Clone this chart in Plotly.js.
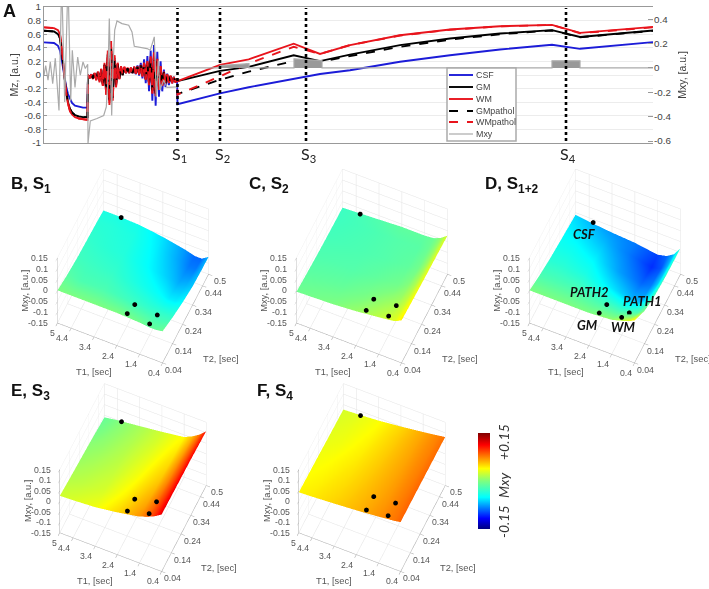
<!DOCTYPE html>
<html><head><meta charset="utf-8">
<script src="https://cdn.plot.ly/plotly-3.0.1.min.js"></script>
<style>html,body{margin:0;padding:0;background:#fff}#g{width:709px;height:589px}</style></head>
<body><div id="g"></div>
<script>
// ---------- Panel A data ----------
const tPre=[0,5,10,14,16,18,20,22,24,26,28,31,35,39,43.5];
const wmPre=[.70,.70,.69,.66,.6,.38,.05,-.25,-.42,-.53,-.58,-.62,-.64,-.65,-.66];
const gmPre=[.65,.65,.64,.6,.54,.33,.03,-.23,-.4,-.5,-.55,-.59,-.61,-.62,-.62];
const csfPre=[.48,.48,.47,.43,.36,.2,.0,-.16,-.28,-.36,-.41,-.45,-.47,-.48,-.48];
const tOsc=[44,45.65,47.3,48.95,50.6,52.25,53.9,55.55,57.2,58.85,60.5,62.15,63.8,65.45,67.1,68.75,70.4,72.05,73.7,75.35,77,78.65,80.3,81.95,83.6,85.25,86.9,88.55,90.2,91.85,93.5,95.15,96.8,98.45,100.1,101.75,103.4,105.05,106.7,108.35,110,111.65,113.3,114.95,116.6,118.25,119.9,121.55,123.2,124.85,126.5,128.15,129.8,131.45,133.1];
const wmOsc=[0,-.05,.01,-.06,.03,-.08,.05,-.11,.09,-.16,.18,-.29,.36,-.44,.5,-.38,.29,-.18,.18,-.06,.13,0,.12,.03,.11,.03,.11,.03,.12,.02,.13,.01,.15,-.02,.18,-.07,.2,-.15,.27,-.27,.33,-.31,.24,-.22,.13,-.16,.05,-.13,.01,-.12,-.01,-.12,-.03,-.11,-.05];
const gmOsc=[0,-.04,.01,-.05,.02,-.07,.04,-.09,.08,-.14,.15,-.25,.31,-.38,.42,-.33,.25,-.15,.16,-.05,.12,0,.11,.03,.10,.03,.10,.03,.11,.02,.12,.01,.14,-.01,.16,-.06,.18,-.13,.23,-.23,.28,-.27,.21,-.19,.11,-.14,.04,-.12,0,-.11,-.02,-.11,-.03,-.10,-.06];
const csfOsc=[0,-.03,.01,-.04,.01,-.05,.03,-.07,.06,-.11,.12,-.2,.25,-.31,.34,-.27,.2,-.12,.13,-.03,.1,.02,.1,.03,.1,.03,.1,.03,.12,.01,.14,-.01,.18,-.05,.23,-.12,.28,-.24,.36,-.38,.44,-.45,.34,-.32,.2,-.24,.08,-.18,.02,-.15,-.02,-.12,-.03,-.11,-.06];
const tPost=[133.5,176,204.7,249.7,276,306,356,406,456,508,536,609];
const wmPost=[-.09,.15,.23,.46,.31,.44,.585,.67,.717,.737,.62,.707];
const gmPost=[-.09,.06,.12,.29,.205,.30,.44,.537,.61,.66,.56,.654];
const csfPost=[-.43,-.27,-.18,-.05,.015,.07,.195,.29,.375,.444,.385,.483];
const gmpPost=[-.28,-.07,.05,.205,.195,.278,.415,.52,.6,.655,.555,.65];
const wmpPost=[-.29,-.02,.17,.415,.31,.44,.58,.665,.715,.735,.615,.70];
const mxyT=[0,1.7,4,6.3,8.7,11.3,15,17.7,20.7,24,26.7,28.3,31,33.7,36.3,39,41.3,43.7,44,46.3,53,59.7,62.3,63.7,65.3,66.7,67.7,69,70.7,73,78,84.7,88,90.3,96.3,103,106.3,110.3,112.3,114.3,116,119.7,123,128,133.7];
const mxyV=[-.06,.02,-.10,.05,-.13,.08,-.35,.72,-.28,.72,-.27,.145,-.16,.09,-.06,.05,-.005,.03,-.62,-.435,-.415,-.39,-.32,-.13,.405,-.24,-.39,.01,.31,.386,.364,.35,.296,.178,.167,.159,.145,.255,-.24,.063,-.18,-.10,-.16,-.16,-.156];
const readT=[133.5,176,176,205,205,250,250,278,278,508,508,536,536,609];
const readV=[0,0,.02,.035,0,0,.075,.06,0,0,.058,.058,0,0];
const sTimes=[133.5,176,262,522];
const sNames=['S<sub>1</sub>','S<sub>2</sub>','S<sub>3</sub>','S<sub>4</sub>'];
const leftTicks=[-1,-.8,-.6,-.4,-.2,0,.2,.4,.6,.8,1];
const leftText=['-1','-0.8','-0.6','-0.4','-0.2','0','0.2','0.4','0.6','0.8','1'];
const rightTicks=[-.6,-.4,-.2,0,.2,.4];
const rightText=['-0.6','-0.4','-0.2','0','0.2','0.4'];
const legendNames=['CSF','GM','WM','GMpathol','WMpathol','Mxy'];
const legendColors=['#1c1cd8','#000000','#e8141c','#000000','#e8141c','#aaaaaa'];
const legendDash=['solid','solid','solid','dash','dash','solid'];
const legendRows=[75,87,99,111,122,134];
// ---------- Surfaces ----------
const T1=[.4,.7,1,1.4,2.4,3.4,4.4,5];
const T2=[.04,.14,.24,.34,.44,.5];
const zB=[[-.005,-.01,-.01,-.005,0,0,0,0],[-.03,-.03,-.03,-.03,-.025,-.02,-.02,-.015],[-.05,-.055,-.055,-.05,-.04,-.03,-.027,-.025],[-.065,-.07,-.072,-.065,-.05,-.037,-.033,-.03],[-.07,-.085,-.085,-.075,-.055,-.04,-.036,-.035],[-.07,-.09,-.09,-.078,-.058,-.044,-.04,-.04]];
const zC=[[.045,.03,.025,.02,.008,0,-.004,-.006],[.04,.022,.012,.008,-.003,-.01,-.012,-.013],[.036,.015,.003,-.005,-.012,-.017,-.018,-.019],[.033,.01,-.005,-.012,-.017,-.02,-.022,-.023],[.03,.007,-.008,-.015,-.017,-.021,-.024,-.026],[.028,.005,-.008,-.012,-.012,-.018,-.024,-.027]];
const zD=[[.045,.03,.02,.008,0,0,0,0],[0,-.02,-.025,-.03,-.025,-.02,-.02,-.02],[-.02,-.05,-.07,-.07,-.055,-.04,-.035,-.035],[-.028,-.065,-.085,-.09,-.075,-.055,-.047,-.045],[-.03,-.07,-.095,-.105,-.085,-.07,-.06,-.055],[-.03,-.07,-.09,-.1,-.085,-.078,-.068,-.06]];
const zE=[[.12,.1,.085,.07,.05,.035,.028,.025],[.118,.097,.08,.063,.043,.027,.02,.017],[.116,.093,.074,.056,.037,.022,.014,.01],[.114,.09,.07,.05,.032,.018,.008,.004],[.11,.085,.064,.044,.027,.014,.003,-.005],[.108,.08,.06,.04,.025,.012,0,-.01]];
const zF=[[.084,.078,.075,.07,.06,.052,.045,.042],[.084,.078,.074,.068,.058,.049,.042,.039],[.083,.077,.073,.067,.056,.046,.039,.036],[.082,.076,.072,.066,.054,.043,.035,.032],[.081,.075,.071,.065,.052,.04,.032,.029],[.08,.075,.07,.064,.05,.038,.03,.027]];
const tissueNames=['CSF','GM','WM','PATH1','PATH2'];
const tissueT1=[4.17,1.96,.98,.96,1.96];
const tissueT2=[.487,.043,.043,.115,.118];
const ptB=[-.028,.012,.004,-.018,-.013];
const ptC=[-.012,.027,.04,.025,.012];
const ptD=[-.051,.015,.034,-.008,-.013];
const ptE=[.014,.072,.099,.092,.062];
const ptF=[.043,.077,.089,.086,.074];
const zTicks=[-.15,-.1,-.05,0,.05,.1,.15];
const zText=['-0.15','-0.1','-0.05','0','0.05','0.1','0.15'];
const t1Ticks=[.4,1.4,2.4,3.4,4.4,5];
const t1Text=['0.4','1.4','2.4','3.4','4.4','5'];
const t2Ticks=[.04,.14,.24,.34,.44,.5];
const t2Text=['0.04','0.14','0.24','0.34','0.44','0.5'];
const jet=[[0,'#00007f'],[.11,'#0000ff'],[.33,'#00ffff'],[.5,'#7fff7f'],[.63,'#ffff00'],[.875,'#ff0000'],[1,'#7f0000']];

const SANS='"Liberation Sans",Arial,sans-serif';
const TICK={family:SANS,size:8.7,color:'#555'};
const TITLE3D={family:SANS,size:9.3,color:'#555'};
const line=(name,x,y,color,dash)=>({type:'scatter',mode:'lines',name,x,y,xaxis:'x',yaxis:'y',line:{color,width:1.9,dash:dash||'solid'}});
const xAll=tPre.concat(tOsc,tPost);
const data=[
 {type:'scatter',mode:'lines',name:'Mxy',x:mxyT,y:mxyV,xaxis:'x',yaxis:'y2',line:{color:'#aaaaaa',width:1.2}},
 {type:'scatter',mode:'lines',name:'readout',x:readT,y:readV,xaxis:'x',yaxis:'y2',fill:'tozeroy',fillcolor:'#999999',line:{color:'#aaaaaa',width:1.2}},
 line('CSF',xAll,csfPre.concat(csfOsc,csfPost),legendColors[0]),
 line('GM',xAll,gmPre.concat(gmOsc,gmPost),legendColors[1]),
 line('WM',xAll,wmPre.concat(wmOsc,wmPost),legendColors[2]),
 line('GMpathol',xAll,gmPre.concat(gmOsc,gmpPost),legendColors[3],'dash'),
 line('WMpathol',xAll,wmPre.concat(wmOsc,wmpPost),legendColors[4],'dash')
];
const W=709,H=589;
const panels=[
 {key:'scene', z:zB,pt:ptB,cx:133,cy:266,lab:'B, S<sub>1</sub>',lx:9,ly:185},
 {key:'scene2',z:zC,pt:ptC,cx:372,cy:266,lab:'C, S<sub>2</sub>',lx:247,ly:185},
 {key:'scene3',z:zD,pt:ptD,cx:605,cy:266,lab:'D, S<sub>1+2</sub>',lx:483,ly:185},
 {key:'scene4',z:zE,pt:ptE,cx:133,cy:481,lab:'E, S<sub>3</sub>',lx:9,ly:392},
 {key:'scene5',z:zF,pt:ptF,cx:372,cy:481,lab:'F, S<sub>4</sub>',lx:255,ly:392}
];
const layout={width:W,height:H,margin:{l:0,r:0,t:0,b:0},paper_bgcolor:'#fff',plot_bgcolor:'#fff',showlegend:false,
 font:{family:SANS},
 xaxis:{domain:[44/W,653/W],range:[0,609],showticklabels:false,ticks:'',showgrid:false,zeroline:false,showline:true,mirror:true,linecolor:'#999',anchor:'y'},
 yaxis:{domain:[1-143/H,1-7/H],range:[-1,1],tickmode:'array',tickvals:leftTicks,ticktext:leftText,tickfont:{family:SANS,size:9.8,color:'#444'},gridcolor:'#ececec',zeroline:false,showline:true,linecolor:'#999',ticks:'inside',ticklen:3,tickcolor:'#999',
   title:{text:'Mz, [a.u.]',font:{family:SANS,size:10.5,color:'#444'},standoff:3}},
 yaxis2:{overlaying:'y',side:'right',anchor:'x',range:[-.616,.5],tickmode:'array',tickvals:rightTicks,ticktext:rightText,tickfont:{family:SANS,size:9.8,color:'#444'},showgrid:false,zeroline:false,showline:false,ticks:'inside',ticklen:5,tickcolor:'#999',
   title:{text:'Mxy, [a.u.]',font:{family:SANS,size:10.5,color:'#444'},standoff:8}},
 shapes:sTimes.map(t=>({type:'line',xref:'x',yref:'paper',x0:t,x1:t,y0:1-141/H,y1:1-8/H,line:{color:'#000',width:2.6,dash:'dot'},layer:'above'})),
 annotations:[]
};
const ann=o=>layout.annotations.push(Object.assign({xref:'paper',yref:'paper',showarrow:false,xanchor:'center',yanchor:'middle'},o));
layout.shapes.push({type:'rect',xref:'paper',yref:'paper',x0:447/W,x1:516/W,y0:1-141/H,y1:1-68/H,fillcolor:'#fff',line:{color:'#aaa',width:1.5},layer:'above'});
legendNames.forEach((n,i)=>{
  layout.shapes.push({type:'line',xref:'paper',yref:'paper',x0:449/W,x1:473/W,y0:1-legendRows[i]/H,y1:1-legendRows[i]/H,line:{color:legendColors[i],width:i===5?1.2:1.9,dash:legendDash[i]},layer:'above'});
  ann({x:474/W,y:1-legendRows[i]/H,xanchor:'left',text:n,font:{family:SANS,size:8.9,color:'#444'}});
});
sTimes.forEach((t,i)=>ann({xref:'x',x:t+2,y:1-155/H,text:sNames[i],font:{family:'Lato,sans-serif',size:16,color:'#222'}}));
ann({x:1/W,y:1-11/H,xanchor:'left',text:'<b>A</b>',font:{family:SANS,size:18,color:'#111'}});
const ax=(ticks,range)=>({tickmode:'array',tickvals:ticks,ticktext:ticks.map(()=>''),showticklabels:false,range,
  showgrid:true,gridcolor:'#e4e4e4',gridwidth:1,showbackground:false,zeroline:false,showline:true,linecolor:'#aaa',linewidth:1,ticks:'outside',ticklen:4,tickcolor:'#aaa',showspikes:false,title:{text:''}});
panels.forEach((p,ip)=>{
  data.push({type:'surface',scene:p.key,x:T1,y:T2,z:p.z,cmin:-.15,cmax:.15,colorscale:jet,showscale:ip===4,
    lighting:{ambient:1,diffuse:0,specular:0,roughness:1,fresnel:0},
    colorbar:{x:478/W,xanchor:'left',y:1-481/H,yanchor:'middle',thicknessmode:'pixels',thickness:12,lenmode:'pixels',len:96,outlinewidth:0,ticks:'',showticklabels:false,xpad:0,ypad:0}});
  data.push({type:'scatter3d',scene:p.key,mode:'markers',x:tissueT1,y:tissueT2,z:p.pt,marker:{size:2.8,color:'#000'},showlegend:false});
  const hw=100,hh=115;
  const sa=[];
  const add=(x,y,z,text,dx,dy,o)=>sa.push(Object.assign({x,y,z,text,showarrow:false,xshift:dx,yshift:-dy,font:TICK},o||{}));
  zTicks.forEach((v,i)=>add(5,.04,v,zText[i],-7,0,{xanchor:'right'}));
  t1Ticks.forEach((v,i)=>add(v,.04,-.15,t1Text[i],v===5?-5:-9,10));
  t2Ticks.forEach((v,i)=>add(.4,v,-.15,t2Text[i],11,7));
  add(2.7,.04,-.15,'T1, [sec]',-16,29,{font:TITLE3D});
  add(.4,.27,-.15,'T2, [sec]',35,40,{font:TITLE3D});
  add(5,.04,0,'Mxy, [a.u.]',-32,0,{textangle:-90,font:TITLE3D});
  if(p.key==='scene3'){
    const LF={family:'Lato,sans-serif',size:13,color:'#111'};
    const off=[[-9,12],[-12,12],[2,10],[13,-12],[-17,-13]];
    tissueNames.forEach((n,i)=>add(tissueT1[i],tissueT2[i],p.pt[i],'<b><i>'+n+'</i></b>',off[i][0],off[i][1],{font:LF}));
  }
  const r=2.27;
  layout[p.key]={domain:{x:[(p.cx-hw)/W,(p.cx+hw)/W],y:[1-(p.cy+hh)/H,1-(p.cy-hh)/H]},
    aspectmode:'manual',aspectratio:{x:1,y:.986,z:1.096},
    camera:{projection:{type:'orthographic'},up:{x:0,y:0,z:1},center:{x:0,y:0,z:0},eye:{x:.21*r,y:-.473*r,z:.856*r}},
    xaxis:ax(t1Ticks,[5,.4]),yaxis:ax(t2Ticks,[.04,.5]),zaxis:ax(zTicks,[-.15,.15]),annotations:sa};
  ann({x:p.lx/W,y:1-p.ly/H,xanchor:'left',text:'<b>'+p.lab+'</b>',font:{family:SANS,size:17,color:'#111'}});
});
[['+0.15',442],['Mxy',485],['-0.15',522]].forEach(a=>ann({x:503/W,y:1-a[1]/H,text:'<i>'+a[0]+'</i>',textangle:-90,font:{family:'Lato,sans-serif',size:14,color:'#333'}}));
Plotly.newPlot('g',data,layout,{displayModeBar:false});
</script></body></html>
